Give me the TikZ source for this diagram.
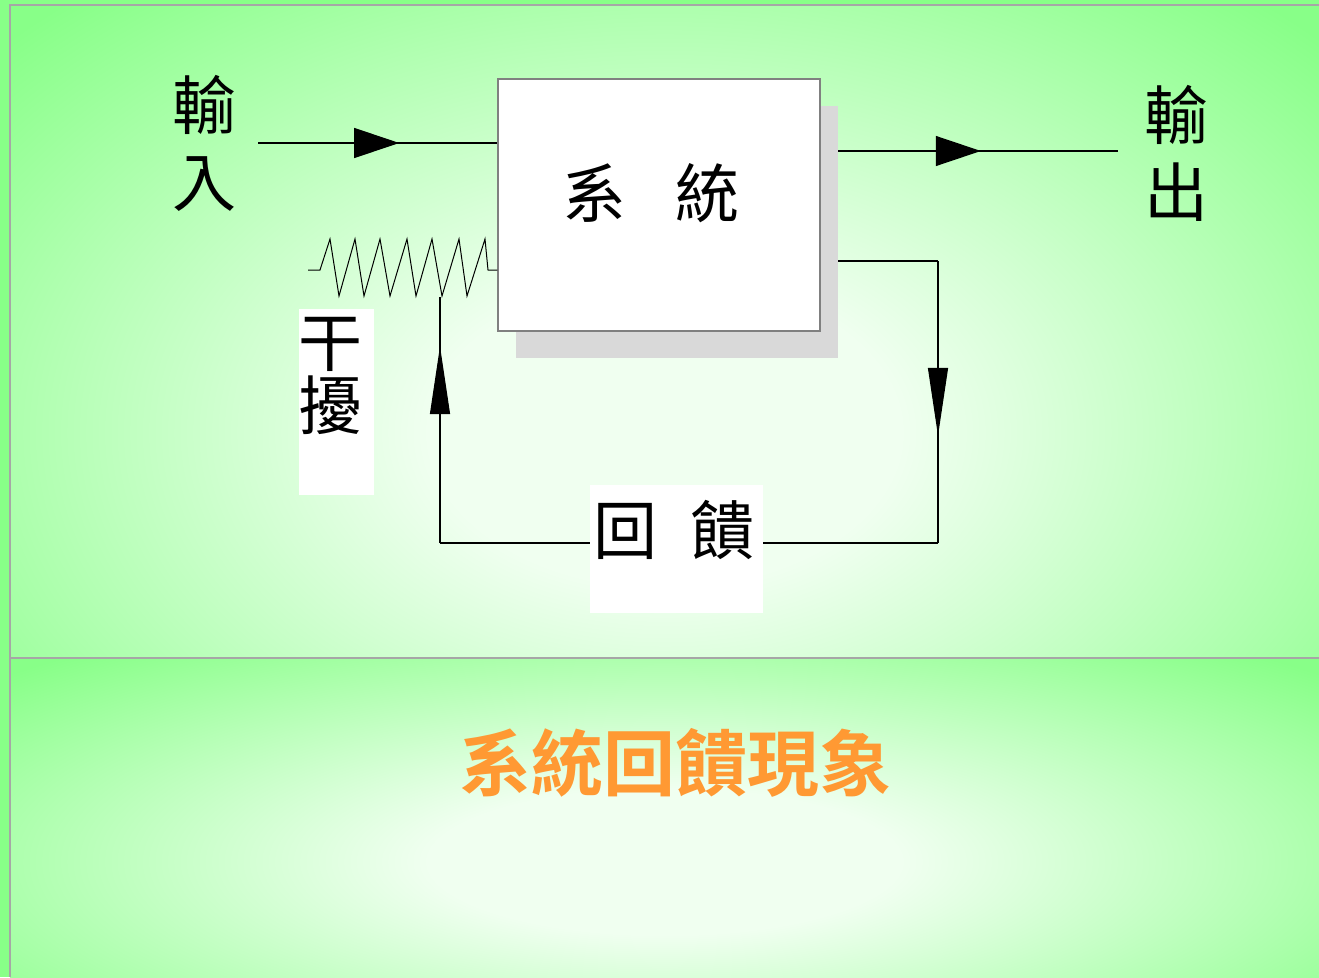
\documentclass[tikz,border=0pt]{standalone}
\usepackage{fontspec}
\usepackage{tikz}
\usetikzlibrary{arrows.meta,decorations.markings,shadows}
\newfontfamily\cjk{Noto Sans CJK TC}
\newfontfamily\cjkbold{Noto Sans CJK TC Bold}
\definecolor{bggreen}{RGB}{136,255,136}
\definecolor{glowwhite}{RGB}{240,255,240}
\definecolor{framegray}{RGB}{166,166,166}
\definecolor{shadowgray}{RGB}{217,217,217}
\definecolor{titleorange}{RGB}{255,153,51}
\pgfdeclareradialshading{panel_glow}{\pgfpoint{0bp}{0bp}}{color(0bp)=(glowwhite); color(9bp)=(glowwhite); color(34bp)=(bggreen); color(50bp)=(bggreen)}

\begin{document}
\begin{tikzpicture}[x=1pt,y=-1pt,
    sys_box/.style={draw=black!50,line width=1.3pt,fill=white,minimum width=322pt,minimum height=252pt,
        drop shadow={shadow xshift=18pt,shadow yshift=-27pt,fill=shadowgray,opacity=1}},
    big_text/.style={font=\cjk\fontsize{64}{#1}\selectfont,align=center,inner sep=0pt},
    link/.style={line width=1.2pt},
    h_arrow/.style={postaction={decorate,decoration={markings,
        mark=at position #1 with {\arrow{Triangle[length=45pt,width=30pt]}}}}},
    v_arrow/.style={postaction={decorate,decoration={markings,
        mark=at position #1 with {\arrow{Triangle[length=68pt,width=20pt]}}}}}]
    \useasboundingbox (0,0) rectangle (1319,977);
    % background panels
    \fill[bggreen] (0,0) rectangle (1319,977);
    \begin{scope}
        \clip (10,5) rectangle (1319,658);
        \shade[shading=panel_glow] (10,5) rectangle (1319,860);
    \end{scope}
    \begin{scope}
        \clip (10,658) rectangle (1319,977);
        \shade[shading=panel_glow] (10,658) rectangle (1319,1065);
    \end{scope}
    \draw[framegray,line width=2.5pt] (10,977) -- (10,5) -- (1319,5);
    \draw[framegray,line width=1.5pt] (10,658) -- (1319,658);

    \node[sys_box] (sys) at (659,205) {};
    \node[big_text=77pt] (sys_text) at (651,193) {系\hspace{50pt}統};

    \node[big_text=77pt] (in_label) at (204,143) {輸\\入};
    \node[big_text=77pt] (out_label) at (1176,153) {輸\\出};

    \coordinate (in_start) at (258,143);
    \coordinate (out_start) at (838,151);
    \coordinate (out_end) at (1118,151);
    \draw[link,h_arrow=0.59] (in_start) -- (sys.west |- in_start);
    \draw[link,h_arrow=0.51] (out_start) -- (out_end);

    % disturbance spring
    \coordinate (dist_in) at (308,270);
    \draw[line width=1pt] (dist_in) -- (320,270)
        foreach \p/\t in {330/339,355/364,380/390,407/416,432/442,459/467} {-- (\p,239) -- (\t,296)}
        -- (485,239) -- (488,270) -- (sys.west |- dist_in);

    % feedback loop
    \coordinate (fb_out) at (838,261);
    \coordinate (fb_a) at (938,261);
    \coordinate (fb_b) at (938,543);
    \coordinate (fb_c) at (440,543);
    \coordinate (fb_in) at (440,297);
    \draw[link] (fb_out) -- (fb_a);
    \draw[link,v_arrow=0.62] (fb_a) -- (fb_b);
    \draw[link] (fb_b) -- (fb_c);
    \draw[link,v_arrow=0.80] (fb_c) -- (fb_in);

    \fill[white] (299,309) rectangle (374,495);
    \node[big_text=63pt] (dist_label) at (330,376) {干\\擾};
    \fill[white] (590,485) rectangle (763,613);
    \node[big_text=77pt] (fb_label) at (674,530) {回\hspace{33pt}饋};

    \node[font=\cjkbold\fontsize{72}{80}\selectfont,text=titleorange,inner sep=0pt] (title) at (675,763) {系統回饋現象};
\end{tikzpicture}
\end{document}
